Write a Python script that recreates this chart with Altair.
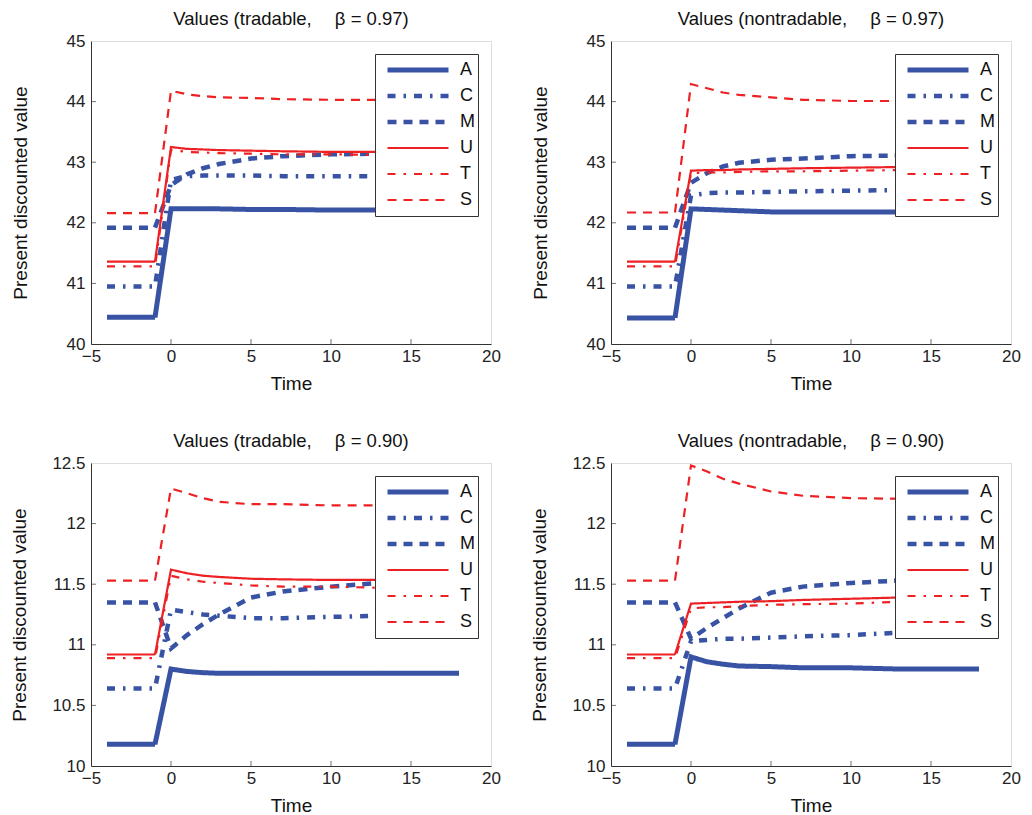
import altair as alt
import pandas as pd

FONT = "Liberation Sans"
SERIES = ["A", "C", "M", "U", "T", "S"]
IDX = [0, 1, 2, 3, 4, 5]
COLORS = ["#3953A4", "#3953A4", "#3953A4", "#ED2024", "#ED2024", "#ED2024"]
DASHES = [[1, 0], [8, 8, 2.5, 8], [9, 7], [1, 0], [8, 8, 2.5, 8], [9, 7]]
WIDTHS = [5, 4.5, 4.5, 2.2, 2.2, 2.2]

TIME = [-4, -1, 0, 1, 2, 3, 5, 7, 10, 13, 18]
XTICKS = [-5, 0, 5, 10, 15, 20]

# tradable, beta = 0.97
tr97 = {
    "A": [40.44, 40.44, 42.23, 42.23, 42.23, 42.23, 42.22, 42.22, 42.21, 42.21, 42.21],
    "C": [40.95, 40.95, 42.71, 42.77, 42.78, 42.78, 42.78, 42.77, 42.77, 42.77, 42.77],
    "M": [41.92, 41.92, 42.62, 42.80, 42.90, 42.97, 43.06, 43.10, 43.13, 43.14, 43.15],
    "U": [41.36, 41.36, 43.25, 43.22, 43.21, 43.20, 43.19, 43.18, 43.17, 43.17, 43.17],
    "T": [41.28, 41.28, 43.20, 43.17, 43.16, 43.15, 43.14, 43.13, 43.13, 43.12, 43.12],
    "S": [42.16, 42.16, 44.18, 44.12, 44.09, 44.07, 44.06, 44.04, 44.03, 44.03, 44.03],
}
# nontradable, beta = 0.97
nt97 = {
    "A": [40.43, 40.43, 42.23, 42.22, 42.21, 42.20, 42.18, 42.18, 42.18, 42.18, 42.18],
    "C": [40.95, 40.95, 42.45, 42.49, 42.50, 42.50, 42.51, 42.52, 42.53, 42.54, 42.55],
    "M": [41.92, 41.92, 42.66, 42.82, 42.93, 42.99, 43.04, 43.06, 43.10, 43.11, 43.12],
    "U": [41.36, 41.36, 42.86, 42.87, 42.87, 42.88, 42.89, 42.90, 42.91, 42.92, 42.93],
    "T": [41.28, 41.28, 42.82, 42.83, 42.83, 42.84, 42.85, 42.85, 42.86, 42.87, 42.88],
    "S": [42.17, 42.17, 44.29, 44.22, 44.15, 44.11, 44.07, 44.03, 44.01, 44.01, 44.00],
}
# tradable, beta = 0.90
tr90 = {
    "A": [10.18, 10.18, 10.80, 10.78, 10.77, 10.765, 10.765, 10.765, 10.765, 10.765, 10.765],
    "C": [10.64, 10.64, 11.29, 11.27, 11.25, 11.24, 11.22, 11.22, 11.23, 11.24, 11.24],
    "M": [11.35, 11.35, 10.97, 11.08, 11.17, 11.25, 11.39, 11.44, 11.48, 11.51, 11.53],
    "U": [10.92, 10.92, 11.62, 11.59, 11.57, 11.56, 11.545, 11.54, 11.535, 11.535, 11.535],
    "T": [10.89, 10.89, 11.57, 11.54, 11.52, 11.51, 11.49, 11.48, 11.48, 11.47, 11.47],
    "S": [11.53, 11.53, 12.29, 12.25, 12.21, 12.18, 12.16, 12.16, 12.15, 12.15, 12.15],
}
# nontradable, beta = 0.90
nt90 = {
    "A": [10.18, 10.18, 10.90, 10.86, 10.84, 10.825, 10.82, 10.81, 10.81, 10.80, 10.80],
    "C": [10.64, 10.64, 11.03, 11.04, 11.05, 11.05, 11.06, 11.07, 11.08, 11.10, 11.12],
    "M": [11.35, 11.35, 11.05, 11.14, 11.22, 11.30, 11.43, 11.48, 11.51, 11.53, 11.55],
    "U": [10.92, 10.92, 11.34, 11.345, 11.35, 11.355, 11.36, 11.37, 11.38, 11.39, 11.40],
    "T": [10.89, 10.89, 11.30, 11.31, 11.31, 11.32, 11.33, 11.335, 11.34, 11.355, 11.37],
    "S": [11.53, 11.53, 12.48, 12.43, 12.37, 12.33, 12.265, 12.23, 12.21, 12.205, 12.22],
}

Y97 = [40, 45]
YT97 = [40, 41, 42, 43, 44, 45]
Y90 = [10, 12.5]
YT90 = [10, 10.5, 11, 11.5, 12, 12.5]

GAP = "\u2003\u2005"
TITLES = [
    "Values (tradable," + GAP + "\u03b2 = 0.97)",
    "Values (nontradable," + GAP + "\u03b2 = 0.97)",
    "Values (tradable," + GAP + "\u03b2 = 0.90)",
    "Values (nontradable," + GAP + "\u03b2 = 0.90)",
]

LABEL_EXPR = "[" + ",".join("'%s\u00a0'" % s for s in SERIES) + "][datum.value]"


def legend():
    return alt.Legend(
        title=None, orient="top-right", offset=13,
        fillColor="white", strokeColor="#333", padding=3,
        symbolType="stroke", symbolSize=3721, symbolOffset=7,
        clipHeight=26, rowPadding=0,
        labelFontSize=18, labelOffset=9, labelFont=FONT, labelColor="#111",
        labelExpr=LABEL_EXPR,
    )


def panel(title, data, ydom, yticks, title_pad):
    rows = [{"t": t, "v": v, "k": i}
            for i, s in enumerate(SERIES) for t, v in zip(TIME, data[s])]
    df = pd.DataFrame(rows)
    xscale = alt.Scale(domain=[-5, 20], nice=False)
    yscale = alt.Scale(domain=ydom, nice=False, zero=False)
    lines = alt.Chart(df).mark_line().encode(
        x=alt.X("t:Q", scale=xscale,
                axis=alt.Axis(values=XTICKS, title="Time", grid=False, tickSize=0,
                              labelFontSize=17, labelFont=FONT, labelColor="#222",
                              labelPadding=4, titleFontSize=19, titleFont=FONT,
                              titleFontWeight="normal", titleColor="#111", titlePadding=10,
                              domainColor="#333", labelFlush=False)),
        y=alt.Y("v:Q", scale=yscale,
                axis=alt.Axis(values=yticks, format="~f", title="Present discounted value",
                              grid=False, tickSize=0, labelFontSize=17, labelFont=FONT,
                              labelColor="#222", labelPadding=6, titleFontSize=19,
                              titleFont=FONT, titleFontWeight="normal", titleColor="#111",
                              titlePadding=title_pad, domainColor="#333", labelFlush=False)),
        color=alt.Color("k:O", scale=alt.Scale(domain=IDX, range=COLORS), legend=legend()),
        strokeDash=alt.StrokeDash("k:O", scale=alt.Scale(domain=IDX, range=DASHES), legend=legend()),
        strokeWidth=alt.StrokeWidth("k:Q", scale=alt.Scale(type="threshold", domain=IDX,
                                                           range=[5] + WIDTHS), legend=legend()),
    )
    xt = alt.Chart(pd.DataFrame({"t": XTICKS[1:-1]})).mark_tick(
        orient="vertical", size=5, thickness=1, yOffset=-2.5, color="#333"
    ).encode(x=alt.X("t:Q", scale=xscale), y=alt.datum(ydom[0]))
    yt = alt.Chart(pd.DataFrame({"v": yticks[1:-1]})).mark_tick(
        orient="horizontal", size=5, thickness=1, xOffset=2.5, color="#333"
    ).encode(y=alt.Y("v:Q", scale=yscale), x=alt.datum(-5))
    return alt.layer(lines, xt, yt).properties(
        width=400, height=303,
        title=alt.Title(title, fontSize=18.5, fontWeight="normal", font=FONT, color="#111", offset=4),
    )


def indep(c):
    return c.resolve_scale(
        x="independent", y="independent", color="independent",
        strokeDash="independent", strokeWidth="independent",
    ).resolve_legend(color="independent", strokeDash="independent", strokeWidth="independent")


p1 = panel(TITLES[0], tr97, Y97, YT97, 36)
p2 = panel(TITLES[1], nt97, Y97, YT97, 36)
p3 = panel(TITLES[2], tr90, Y90, YT90, 22)
p4 = panel(TITLES[3], nt90, Y90, YT90, 22)

row1 = indep(alt.hconcat(p1, p2, spacing=29))
row2 = indep(alt.hconcat(p3, p4, spacing=29))
chart = indep(alt.vconcat(row1, row2, spacing=37)).properties(
    padding={"left": 10, "top": 9, "right": 5, "bottom": 5}
).configure_view(stroke=None).configure(font=FONT)

chart.save("out.html", embed_options={"renderer": "svg", "actions": False})
